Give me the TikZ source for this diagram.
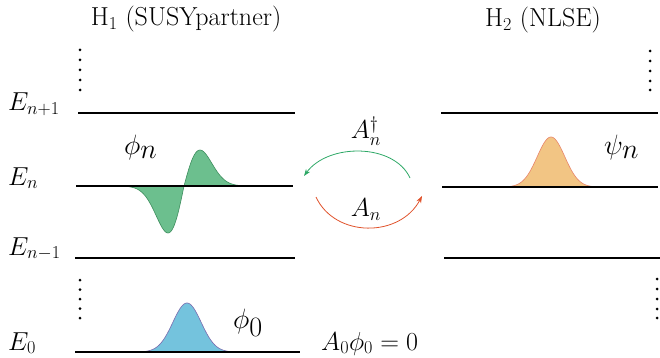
\RequirePackage{fix-cm}
\documentclass[tikz,border=0pt]{standalone}
\usetikzlibrary{arrows.meta}
\definecolor{wgreen}{HTML}{6CBF8E}
\definecolor{wgreenD}{HTML}{3E8E5E}
\definecolor{wblue}{HTML}{74C3DD}
\definecolor{wblueD}{HTML}{7A6AAE}
\definecolor{worange}{HTML}{F2C584}
\definecolor{worangeD}{HTML}{E8866C}
\definecolor{agreen}{HTML}{2DA866}
\definecolor{ared}{HTML}{E0522B}
\begin{document}
\begin{tikzpicture}[x=1pt,y=-1pt,
  level/.style={line width=1.4pt,black},
  ttl/.style={font=\fontsize{26}{30}\selectfont,inner sep=0pt},
  lbl/.style={font=\fontsize{26}{30}\selectfont,inner sep=0pt},
  big/.style={font=\fontsize{28}{32}\selectfont,inner sep=0pt},
  dotc/.style={fill=black,draw=none},
  arr/.style={line width=0.8pt,-{Stealth[length=7pt,width=5pt]}}]
\useasboundingbox (0,0) rectangle (660,358);
% titles
\node[ttl] (t1) at (186,19) {H$_1$ (SUSYpartner)};
\node[ttl] (t2) at (543,20) {H$_2$ (NLSE)};
% energy labels
\node[lbl,anchor=base west] (en1) at (8,111) {$E_{n+1}$};
\node[lbl,anchor=base west] (en) at (8,185) {$E_n$};
\node[lbl,anchor=base west] (enm) at (8,255) {$E_{n-1}$};
\node[lbl,anchor=base west] (e0) at (8,350) {$E_0$};
% left levels
\coordinate (l1a) at (78,113); \coordinate (l1b) at (295,113);
\coordinate (l2a) at (76,186); \coordinate (l2b) at (293,186);
\coordinate (l3a) at (75,258); \coordinate (l3b) at (295,258);
\coordinate (l4a) at (75,352); \coordinate (l4b) at (300,352);
% right levels
\coordinate (r1a) at (441,113); \coordinate (r1b) at (658,113);
\coordinate (r2a) at (442,187); \coordinate (r2b) at (658,187);
\coordinate (r3a) at (444,258); \coordinate (r3b) at (660,258);
% wavefunctions
\fill[wgreen,draw=wgreenD,line width=0.6pt] plot[domain=106:260,samples=150]
  (\x,{186 - (\x<184 ? 47 : 36)*((\x-184)/22.6)*exp(-((\x-184)/22.6)*((\x-184)/22.6))/0.4289});
\fill[wblue,draw=wblueD,line width=0.6pt] plot[domain=140:236,samples=120]
  (\x,{352 - 49*exp(-((\x-187)/20)*((\x-187)/20))});
\fill[worange,draw=worangeD,line width=0.6pt] plot[domain=505:598,samples=120]
  (\x,{187 - 50*exp(-((\x-551)/19.5)*((\x-551)/19.5))});
% levels on top
\draw[level] (l1a) -- (l1b);
\draw[level] (l2a) -- (l2b);
\draw[level] (l3a) -- (l3b);
\draw[level] (l4a) -- (l4b);
\draw[level] (r1a) -- (r1b);
\draw[level] (r2a) -- (r2b);
\draw[level] (r3a) -- (r3b);
% dots
\foreach \y in {50,60,70,80,90} \fill[dotc] (80,\y) circle (1.5);
\foreach \y in {280,289.5,299,308.5,318} \fill[dotc] (80,\y) circle (1.5);
\foreach \y in {51,61,71,81,90} \fill[dotc] (650,\y) circle (1.5);
\foreach \y in {279,289,299,309,318} \fill[dotc] (657,\y) circle (1.5);
% wavefunction labels
\node[big,anchor=base west] (phin) at (124,154) {$\phi_{\displaystyle n}$};
\node[big,anchor=base west] (phi0) at (233,328) {$\phi_{\displaystyle 0}$};
\node[big,anchor=base west] (psin) at (604,154) {$\psi_{\displaystyle n}$};
% arrows
\coordinate (ga) at (410,178); \coordinate (gb) at (304,176);
\coordinate (ra) at (316,197); \coordinate (rb) at (422,196);
\draw[arr,agreen] (ga) .. controls (394,143) and (328,143) .. (gb);
\draw[arr,ared] (ra) .. controls (335,238) and (400,238) .. (rb);
\node[lbl] (adag) at (366,131) {$A_n^\dagger$};
\node[lbl] (an) at (366,210) {$A_n$};
\node[lbl,anchor=base west] (eq) at (321,350) {$A_0\phi_0=0$};
\end{tikzpicture}
\end{document}
